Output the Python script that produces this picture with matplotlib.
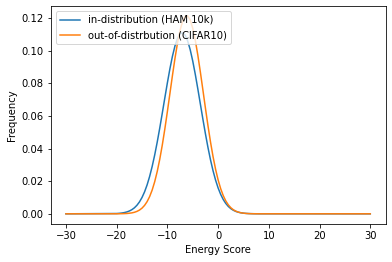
import matplotlib
matplotlib.use("Agg")
import matplotlib.pyplot as plt

# Energy score grid
energy = [-30,
          -20, -19.5, -19, -18.5, -18, -17.5, -17, -16.5, -16, -15.5,
          -15, -14.5, -14, -13.5, -13, -12.5, -12, -11.5, -11, -10.5,
          -10, -9.5, -9, -8.5, -8, -7.5, -7, -6.5, -6, -5.5,
          -5, -4.5, -4, -3.5, -3, -2.5, -2, -1.5, -1, -0.5,
          0, 0.5, 1, 1.5, 2, 2.5, 3, 3.5, 4, 4.5,
          5, 5.5, 6, 6.5, 7, 7.5, 8,
          30]

in_dist = [0.0,
           0.00018, 0.00029, 0.00047, 0.00074, 0.00113, 0.00171, 0.00253, 0.00367, 0.00523, 0.00730,
           0.00999, 0.01342, 0.01768, 0.02286, 0.02898, 0.03604, 0.04396, 0.05259, 0.06173, 0.07106,
           0.08024, 0.08888, 0.09657, 0.10292, 0.10758, 0.11032, 0.11096, 0.10947, 0.10594, 0.10057,
           0.09364, 0.08551, 0.07661, 0.06733, 0.05803, 0.04906, 0.04069, 0.03310, 0.02642, 0.02068,
           0.01587, 0.01196, 0.00883, 0.00640, 0.00455, 0.00317, 0.00217, 0.00145, 0.00096, 0.00062,
           0.00039, 0.00024, 0.00015, 0.00009, 0.00005, 0.00003, 0.00002,
           0.0]

out_dist = [0.0,
            0.00002, 0.00004, 0.00007, 0.00012, 0.00020, 0.00035, 0.00057, 0.00093, 0.00148, 0.00229,
            0.00347, 0.00514, 0.00744, 0.01052, 0.01454, 0.01965, 0.02593, 0.03346, 0.04218, 0.05199,
            0.06261, 0.07370, 0.08477, 0.09529, 0.10471, 0.11242, 0.11798, 0.12100, 0.12128, 0.11880,
            0.11373, 0.10640, 0.09728, 0.08695, 0.07593, 0.06481, 0.05406, 0.04407, 0.03510, 0.02734,
            0.02080, 0.01547, 0.01125, 0.00798, 0.00554, 0.00376, 0.00249, 0.00162, 0.00102, 0.00063,
            0.00038, 0.00023, 0.00013, 0.00007, 0.00004, 0.00002, 0.00001,
            0.0]

labels = ["in-distribution (HAM 10k)", "out-of-distrbution (CIFAR10)"]

W, H = 392, 262
fig = plt.figure(figsize=(W / 72, H / 72), dpi=72)
ax = fig.add_axes([50.7 / W, 38.3 / H, (385.5 - 50.7) / W, (256.0 - 38.3) / H])

ax.plot(energy, in_dist, label=labels[0])
ax.plot(energy, out_dist, label=labels[1])
ax.set_xlabel("Energy Score")
ax.set_ylabel("Frequency")
ax.set_xticks([-30, -20, -10, 0, 10, 20, 30])
ax.set_yticks([0.0, 0.02, 0.04, 0.06, 0.08, 0.10, 0.12])
ax.legend(loc="upper left")

fig.savefig("out.png", dpi=72)
